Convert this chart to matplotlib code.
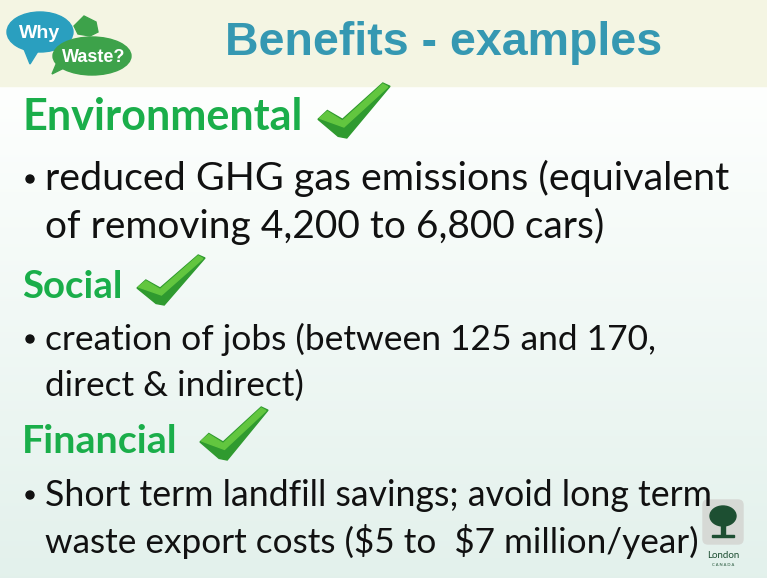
import numpy as np
import matplotlib.pyplot as plt
from matplotlib.patches import Rectangle, Ellipse, Polygon, FancyBboxPatch, Circle
from matplotlib import font_manager

W, H = 767, 578

title = 'Benefits - examples'
headings = ['Environmental', 'Social', 'Financial']
heading_y = [130, 298, 453]
bullets = [
    ['reduced GHG gas emissions (equivalent', 'of removing 4,200 to 6,800 cars)'],
    ['creation of jobs (between 125 and 170,', 'direct & indirect)'],
    ['Short term landfill savings; avoid long term', r'waste export costs (\$5 to  \$7 million/year)'],
]
bullet_y = [[190, 238], [350, 396], [506, 553]]
bullet_right = [[727, 603], [655, 303], [710, 697]]
heading_right = [302, 122, 177]
check_box = [(318, 83, 72, 55), (137, 255, 68, 50), (200, 407, 68, 53)]

names = {f.name for f in font_manager.fontManager.ttflist}
body_font = 'Lato' if 'Lato' in names else 'DejaVu Sans'
title_font = 'Liberation Sans Narrow' if 'Liberation Sans Narrow' in names else 'Liberation Sans'

fig = plt.figure(figsize=(W / 100, H / 100), dpi=100)
ax = fig.add_axes([0, 0, 1, 1])
ax.set_xlim(0, W)
ax.set_ylim(H, 0)
ax.axis('off')

# background
grad = np.linspace(0, 1, 256)[:, None]
c0 = np.array([0.995, 1.0, 0.995])
c1 = np.array([0.89, 0.945, 0.925])
img = c0 + (c1 - c0) * grad[..., None]
ax.imshow(img, extent=[0, W, H, 86], aspect='auto', zorder=0)
ax.add_patch(Rectangle((0, 0), W, 86, color='#f4f5e3', zorder=1))

fig.canvas.draw()
renderer = fig.canvas.get_renderer()


def fit_text(x, y, s, right, size, **kw):
    t = ax.text(x, y, s, fontsize=size, va='baseline', ha='left', zorder=5, **kw)
    w = t.get_window_extent(renderer).width
    t.set_fontsize(size * (right - x) / w)
    return t


fit_text(225, 55, title, 662, 30, color='#3598b2', fontweight='bold', family=title_font)

for i, h in enumerate(headings):
    fit_text(22, heading_y[i], h, heading_right[i], 28, color='#1aae4a',
             fontweight='bold', family=body_font)
    for j, line in enumerate(bullets[i]):
        fit_text(45, bullet_y[i][j], line, bullet_right[i][j], 22, color='#111111',
                 family=body_font)
    ax.add_patch(Circle((30, bullet_y[i][0] - 11), 4.0, color='#111111', zorder=5))

# check marks
shape = np.array([[0.00, 0.66], [0.13, 0.50], [0.34, 0.66], [0.90, 0.00],
                  [1.00, 0.06], [0.40, 1.00], [0.28, 0.97]])
hilite = np.array([[0.02, 0.64], [0.13, 0.52], [0.34, 0.69], [0.90, 0.02],
                   [0.97, 0.07], [0.36, 0.80]])
for (cx, cy, cw, ch) in check_box:
    pts = shape * [cw, ch] + [cx, cy]
    ax.add_patch(Polygon(pts, closed=True, color='#2f9a2f', zorder=4))
    ax.add_patch(Polygon(hilite * [cw, ch] + [cx, cy], closed=True, color='#62c63f', zorder=4))

# Why Waste? logo
ax.add_patch(Polygon([[22, 44], [30, 64], [40, 48]], color='#2a9fbf', zorder=3))
ax.add_patch(Ellipse((40, 32), 66, 40, color='#2a9fbf', zorder=3))
ax.add_patch(Polygon([[60, 55], [52, 74], [72, 64]], color='#3da24a', zorder=3))
ax.add_patch(Ellipse((92, 56), 78, 38, color='#3da24a', zorder=3))
ax.add_patch(Polygon([[74, 26], [84, 16], [96, 22], [98, 32], [90, 36], [78, 34]],
                     color='#3da24a', zorder=2))
ax.text(40, 33, 'Why', color='white', fontsize=14, fontweight='bold', ha='center',
        va='center', family=title_font, zorder=4)
ax.text(94, 57, 'Waste?', color='white', fontsize=13, fontweight='bold', ha='center',
        va='center', family=title_font, zorder=4)

# London logo
ax.add_patch(FancyBboxPatch((703, 500), 40, 44, boxstyle='round,pad=0,rounding_size=5',
                            color='#d6d9d5', zorder=3))
ax.add_patch(Rectangle((721, 522), 4, 14, color='#1d4f32', zorder=4))
ax.add_patch(Ellipse((723, 516), 26, 20, color='#1d4f32', zorder=4))
ax.add_patch(Rectangle((712, 535), 22, 2, color='#1d4f32', zorder=4))
ax.text(723, 558, 'London', color='#1d4f32', fontsize=7, ha='center', va='baseline',
        family=body_font, zorder=4)
ax.text(723, 566, 'C A N A D A', color='#1d4f32', fontsize=3, ha='center', va='baseline',
        family=body_font, zorder=4)

fig.savefig('out.png', dpi=100)
